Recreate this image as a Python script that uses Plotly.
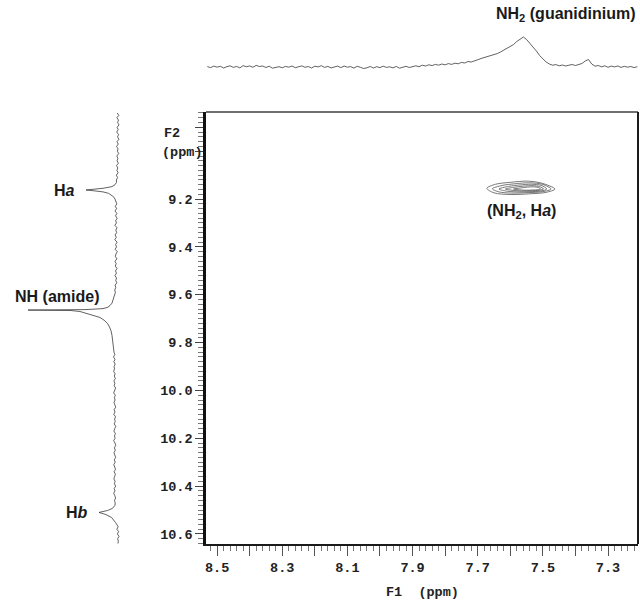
import numpy as np
import plotly.graph_objects as go

# ---------------- data ----------------
X_RANGE = [8.534, 7.208]          # F1 (ppm), reversed
Y_RANGE = [10.642, 8.836]         # F2 (ppm), reversed

x_tick_vals = [8.5, 8.4, 8.3, 8.2, 8.1, 8.0, 7.9, 7.8, 7.7, 7.6, 7.5, 7.4, 7.3]
x_tick_text = ["8.5", "", "8.3", "", "8.1", "", "7.9", "", "7.7", "", "7.5", "", "7.3"]
y_tick_vals = [8.9, 9.0, 9.2, 9.4, 9.6, 9.8, 10.0, 10.2, 10.4, 10.6]
y_tick_text = ["", "", "9.2", "9.4", "9.6", "9.8", "10.0", "10.2", "10.4", "10.6"]

# top 1D projection (F1), sampled from 8.53 ppm downwards every 0.01 ppm
top_start, top_step = 8.53, 0.01
top_int = [
    0.4, -0.6, 0.9, -0.2, 0.7, -1.0, 0.3, 1.2, -0.4, 0.6,
    -0.9, 1.4, 0.2, 1.1, -0.3, 1.6, 0.5, 1.0, -0.5, 0.8,
    -1.2, -0.4, 0.3, -0.8, 0.6, -0.2, 1.0, -0.7, 0.4, 1.1,
    -0.3, 0.5, -1.0, 0.8, 0.1, 1.3, -0.4, 0.6, -0.9, 0.2,
    0.9, -0.6, 1.0, -0.2, 0.4, -1.1, 0.7, -0.3, -1.5, -0.8,
    0.5, -1.0, 0.3, -0.6, 0.8, -0.4, 0.2, -0.9, 0.6, -1.2,
    -0.3, 0.7, -0.5, 0.4, 1.2, 0.3, 1.8, 1.0, 2.2, 1.4,
    2.6, 1.8, 3.0, 2.2, 3.4, 2.6, 3.8, 3.2, 4.6, 4.0,
    5.5, 5.0, 6.5, 7.2, 8.5, 9.5, 10.4, 11.0, 12.5, 13.4,
    15.0, 16.8, 18.5, 21.0, 22.5, 25.5, 28.0, 30.0, 27.5, 24.0,
    20.5, 16.0, 11.5, 8.0, 5.0, 3.0, 1.8, 2.4, 1.2, 2.0,
    1.0, 1.8, 2.5, 1.5, 2.8, 3.5, 6.0, 7.5, 3.0, 0.8,
    1.5, 0.2, 1.2, -0.3, 0.9, 0.1, 1.0, -0.4, 0.7, -0.2,
    0.5, -0.6, 0.3,
]

# left 1D projection (F2): baseline samples every 0.01 ppm from 8.84 ppm
# (None where a peak is described by its own points below)
left_start, left_step = 8.84, 0.01
left_base = [
    -1.2, -2.8, -0.9, -2.5, -1.6, -3.0, -1.1, -2.2, -0.7, -2.6,
    -1.5, -2.9, -1.0, -2.3, -0.6, -2.0, -1.4, -2.7, -0.8, -1.9,
    -1.1, -2.4, -0.5, -1.8, -0.9, -2.1, -0.3, -1.6, -0.4, None,
    None, None, None, None, None, None, None, 0.4, -0.8, 0.7,
    -0.6, 1.0, -0.9, 0.5, -1.2, 0.3, -0.4, 1.1, -1.0, 0.2,
    -0.7, 0.9, -0.3, 1.2, -1.1, 0.4, -0.5, 0.8, -1.3, 0.1,
    0.6, -0.9, 1.0, -0.2, 0.7, -1.0, 0.5, -0.4, 1.1, -0.6,
    0.3, -0.8, 0.9, 0.2, 1.3, 0.6, None, None, None, None,
    None, None, None, None, None, None, None, None, None, None,
    None, None, None, None, None, None, None, None, None, None,
    2.0, 1.2, 2.5, 1.0, 2.2, 0.8, 1.9, 1.5, 2.4, 0.9,
    1.7, 0.6, 2.1, 1.1, 1.8, 0.4, 1.5, 2.3, 0.7, 1.6,
    0.9, 2.0, 1.2, 0.3, 1.9, 1.0, 2.2, 0.5, 1.4, 0.8,
    1.8, 0.2, 1.3, 2.1, 0.6, 1.5, 0.9, 2.4, 1.0, 0.3,
    1.6, 0.7, 2.0, 1.1, 0.4, 1.7, 0.8, 2.2, 1.2, 0.5,
    1.9, 0.6, 1.4, 2.1, 0.9, 1.6, 0.3, 1.8, 1.0, 2.3,
    1.2, 0.4, 1.5, 0.8, None, None, None, None, None, None,
    None, None, -1.0, -2.2, -0.8, -2.6, -1.4, -3.0, -1.6, -2.4,
    -1.9,
]
ha_ppm = [9.130, 9.140, 9.148, 9.155, 9.160, 9.162, 9.165, 9.170, 9.176, 9.183, 9.190, 9.200]
ha_int = [-0.5, 1.0, 4.0, 13.0, 27.0, 30.0, 23.0, 13.0, 7.5, 4.5, 2.5, 1.0]
nh_ppm = [9.600, 9.620, 9.635, 9.645, 9.652, 9.658, 9.662, 9.664, 9.666, 9.670, 9.677,
          9.685, 9.695, 9.706, 9.720, 9.735, 9.750, 9.770, 9.790, 9.810, 9.830]
nh_int = [1.5, 3.0, 4.0, 6.0, 8.0, 13.0, 30.0, 88.0, 45.0, 36.0, 30.0,
          22.0, 16.0, 12.0, 8.5, 6.5, 5.0, 4.0, 3.5, 2.5, 2.0]
hb_ppm = [10.480, 10.493, 10.502, 10.510, 10.519, 10.531, 10.552]
hb_int = [1.0, 3.5, 8.5, 17.0, 10.0, 4.5, 0.5]

# 2D cross peak (NH2, Ha): nested contour outlines (F1 ppm, F2 ppm)
contour_f1 = [
    [7.672, 7.645, 7.600, 7.545, 7.505, 7.463, 7.490, 7.540, 7.600, 7.650, 7.672],
    [7.655, 7.625, 7.585, 7.540, 7.500, 7.475, 7.500, 7.545, 7.595, 7.635, 7.655],
    [7.635, 7.605, 7.570, 7.535, 7.505, 7.488, 7.505, 7.540, 7.580, 7.615, 7.635],
    [7.615, 7.590, 7.560, 7.530, 7.510, 7.498, 7.510, 7.535, 7.565, 7.595, 7.615],
    [7.590, 7.570, 7.548, 7.528, 7.515, 7.507, 7.515, 7.530, 7.552, 7.575, 7.590],
]
contour_f2 = [
    [9.155, 9.138, 9.130, 9.125, 9.133, 9.158, 9.172, 9.178, 9.181, 9.174, 9.155],
    [9.157, 9.143, 9.136, 9.132, 9.139, 9.158, 9.169, 9.173, 9.175, 9.170, 9.157],
    [9.158, 9.147, 9.141, 9.138, 9.143, 9.158, 9.166, 9.169, 9.170, 9.166, 9.158],
    [9.158, 9.151, 9.146, 9.144, 9.148, 9.158, 9.163, 9.165, 9.166, 9.163, 9.158],
    [9.158, 9.154, 9.150, 9.149, 9.151, 9.158, 9.161, 9.162, 9.163, 9.161, 9.158],
]

# ---------------- figure ----------------
W, H = 640, 602
ML, MR, MT, MB = 0, 2, 0, 58
PW, PH = W - ML - MR, H - MT - MB

def fx(px):
    return (px - ML) / PW

def fy(py):
    return (H - MB - py) / PH

main_xdom = [fx(206), 1.0]
main_ydom = [0.0, fy(112)]
top_ydom = [fy(77), fy(22)]
left_xdom = [0.0, fx(130)]

tick_font = dict(family="Liberation Mono, Courier New, monospace", size=13.5,
                 color="#222222", weight="bold")
label_font = dict(family="Liberation Sans, Arial, sans-serif", size=16,
                  color="#1a1a1a", weight="bold")

fig = go.Figure()

for cx, cy in zip(contour_f1, contour_f2):
    fig.add_trace(go.Scatter(x=cx, y=cy, mode="lines", xaxis="x", yaxis="y",
                             line=dict(color="#555555", width=0.8, shape="spline", smoothing=0.9),
                             hoverinfo="skip", showlegend=False))

top_ppm = np.round(top_start - top_step * np.arange(len(top_int)), 3)
fig.add_trace(go.Scatter(x=top_ppm, y=top_int, mode="lines", xaxis="x2", yaxis="y2",
                         line=dict(color="#3a3a3a", width=0.8),
                         hoverinfo="skip", showlegend=False))

pts = [(round(left_start + left_step * i, 3), v) for i, v in enumerate(left_base) if v is not None]
pts += list(zip(ha_ppm, ha_int)) + list(zip(nh_ppm, nh_int)) + list(zip(hb_ppm, hb_int))
pts.sort(key=lambda p: p[0])
left_ppm = [p[0] for p in pts]
left_int = [p[1] for p in pts]
fig.add_trace(go.Scatter(x=left_int, y=left_ppm, mode="lines", xaxis="x3", yaxis="y3",
                         line=dict(color="#3a3a3a", width=0.8),
                         hoverinfo="skip", showlegend=False))

fig.update_layout(
    width=W, height=H,
    margin=dict(l=ML, r=MR, t=MT, b=MB),
    paper_bgcolor="white", plot_bgcolor="white",
    showlegend=False,
    xaxis=dict(domain=main_xdom, range=X_RANGE, anchor="y",
               showline=True, linecolor="#1a1a1a", linewidth=2, mirror=False,
               showgrid=False, zeroline=False,
               tickmode="array", tickvals=x_tick_vals, ticktext=x_tick_text,
               ticks="outside", ticklen=10, tickwidth=1, tickcolor="#555555",
               tickfont=tick_font,
               minor=dict(dtick=0.02, tick0=7.0, ticks="outside", ticklen=5,
                          tickwidth=1, tickcolor="#777777", showgrid=False)),
    yaxis=dict(domain=main_ydom, range=Y_RANGE, anchor="x",
               showline=True, linecolor="#111111", linewidth=2.5, mirror=False,
               showgrid=False, zeroline=False,
               tickmode="array", tickvals=y_tick_vals, ticktext=y_tick_text,
               ticks="outside", ticklen=8, tickwidth=1, tickcolor="#444444",
               tickfont=tick_font,
               minor=dict(dtick=0.02, tick0=9.0, ticks="outside", ticklen=5,
                          tickwidth=1, tickcolor="#777777", showgrid=False)),
    xaxis2=dict(domain=main_xdom, range=X_RANGE, anchor="y2", visible=False),
    yaxis2=dict(domain=top_ydom, range=[-10, 45], anchor="x2", visible=False),
    xaxis3=dict(domain=left_xdom, range=[116, -14], anchor="y3", visible=False),
    yaxis3=dict(domain=main_ydom, range=Y_RANGE, anchor="x3", visible=False),
)

# top and right borders of the 2D frame
fig.add_shape(type="line", xref="x domain", yref="y domain", x0=0, x1=1, y0=1, y1=1,
              line=dict(color="#707070", width=2))
fig.add_shape(type="line", xref="x domain", yref="y domain", x0=1, x1=1, y0=0, y1=1,
              line=dict(color="#1a1a1a", width=2))

annotations = [
    dict(text="F2", x=fx(162), y=fy(133), xanchor="left", yanchor="middle", font=tick_font),
    dict(text="(ppm)", x=fx(160), y=fy(152), xanchor="left", yanchor="middle", font=tick_font),
    dict(text="F1  (ppm)", x=(main_xdom[0] + main_xdom[1]) / 2, y=fy(592),
         xanchor="center", yanchor="middle", font=tick_font),
    dict(text="NH<sub>2</sub> (guanidinium)", x=fx(638), y=fy(14), xanchor="right",
         yanchor="middle", font=label_font),
    dict(text="H<i>a</i>", x=fx(64), y=fy(190), xanchor="center", yanchor="middle", font=label_font),
    dict(text="NH (amide)", x=fx(101), y=fy(296), xanchor="right", yanchor="middle", font=label_font),
    dict(text="H<i>b</i>", x=fx(77), y=fy(512), xanchor="center", yanchor="middle", font=label_font),
    dict(text="(NH<sub>2</sub>, H<i>a</i>)", x=fx(521), y=fy(212), xanchor="center",
         yanchor="middle", font=label_font),
]
for a in annotations:
    a.update(xref="paper", yref="paper", showarrow=False)
    fig.add_annotation(**a)

fig.write_html("out.html",
               config={"displayModeBar": False},
               post_script="document.body.style.margin='0px';document.body.style.overflow='hidden';")
